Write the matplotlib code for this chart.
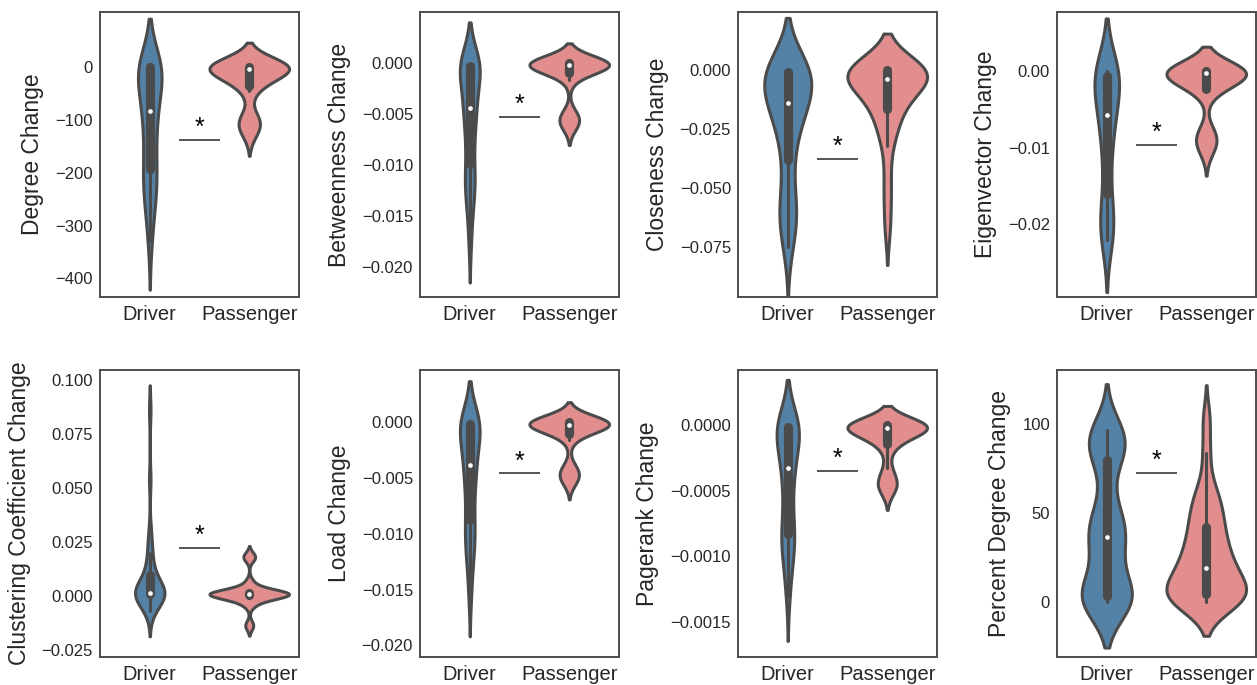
import numpy as np
import pandas as pd
import matplotlib
matplotlib.use("Agg")
import matplotlib.pyplot as plt
import seaborn as sns

groups = ["Driver", "Passenger"]
colors = ["steelblue", "lightcoral"]

labels = ["Degree Change", "Betweenness Change", "Closeness Change", "Eigenvector Change",
          "Clustering Coefficient Change", "Load Change", "Pagerank Change", "Percent Degree Change"]

degree_driver = [-330, -290, -260, -240, -232, -225, -205, -190, -175, -158, -140, -120, -100, -84,
                 -82, -68, -54, -40, -26, -14, 0, 0, 0, 0, 0, 0, 0, 0]
degree_passenger = [-128, -115, -108, -100, -95, -45, -34, -28, -20, -14, -10, -6, -3, -2, -1,
                    0, 0, 0, 1, 2, 3, 4, 5, 6]

betweenness_driver = [-0.0175, -0.0150, -0.0135, -0.0125, -0.0120, -0.0115, -0.0108, -0.0096,
                      -0.0085, -0.0075, -0.0065, -0.0056, -0.0050, -0.0046, -0.0042, -0.0036,
                      -0.0028, -0.0020, -0.0014, -0.0008, -0.0003, -0.0002, -0.0001, 0, 0, 0, 0, 0]
betweenness_passenger = [-0.0063, -0.0059, -0.0056, -0.0053, -0.0049, -0.0017, -0.0007, -0.0006,
                         -0.0005, -0.0004, -0.0003, -0.00025, -0.0002, -0.00015, -0.0001, -0.00005,
                         0, 0, 0, 0, 0, 0, 0.0001, 0.0002]

closeness_driver = [-0.075, -0.068, -0.064, -0.061, -0.058, -0.054, -0.044, -0.036, -0.030, -0.025,
                    -0.021, -0.018, -0.016, -0.015, -0.013, -0.011, -0.009, -0.007, -0.005, -0.003,
                    -0.001, 0, 0, 0, 0, 0, 0, 0]
closeness_passenger = [-0.067, -0.055, -0.045, -0.032, -0.027, -0.023, -0.020, -0.017, -0.015,
                       -0.013, -0.011, -0.009, -0.007, -0.005, -0.004, -0.003, -0.002, -0.002,
                       -0.001, -0.001, -0.0005, 0, 0, 0, 0, 0, 0, 0, 0, 0]

eigen_driver = [-0.0220, -0.0215, -0.0210, -0.0205, -0.0200, -0.0190, -0.0175, -0.0155, -0.0130,
                -0.0110, -0.0095, -0.0080, -0.0070, -0.0062, -0.0052, -0.0045, -0.0038, -0.0030,
                -0.0022, -0.0015, -0.0008, 0, 0, 0, 0, 0, 0, 0]
eigen_passenger = [-0.0105, -0.0095, -0.0090, -0.0085, -0.0080, -0.0026, -0.0022, -0.0018, -0.0014,
                   -0.0010, -0.0007, -0.0004, -0.0002, -0.0001, 0, 0, 0, 0, 0, 0, 0, 0, 0, 0]

clustering_driver = [-0.007, -0.005, -0.0035, -0.002, -0.001, 0, 0.0005, 0.001, 0.001, 0.0012,
                     0.0012, 0.0013, 0.0014, 0.0015, 0.0015, 0.0016, 0.002, 0.003, 0.004, 0.005,
                     0.0065, 0.008, 0.0105, 0.013, 0.016, 0.020, 0.024, 0.030, 0.054, 0.086]
clustering_passenger = [-0.014, -0.013, -0.0045, -0.003, -0.002, -0.0012, 0, 0.0005, 0.0007, 0.0008,
                        0.0009, 0.001, 0.001, 0.001, 0.001, 0.001, 0.001, 0.001, 0.001, 0.0011,
                        0.0012, 0.0013, 0.0015, 0.0022, 0.0035, 0.005, 0.007, 0.0175, 0.018, 0.019]

load_driver = [-0.0155, -0.0135, -0.0120, -0.0112, -0.0106, -0.0100, -0.0094, -0.0086, -0.0076,
               -0.0066, -0.0058, -0.0050, -0.0045, -0.0040, -0.0036, -0.0030, -0.0024, -0.0018,
               -0.0012, -0.0007, -0.0002, 0, 0, 0, 0, 0, 0, 0]
load_passenger = [-0.0054, -0.0050, -0.0047, -0.0044, -0.0040, -0.0016, -0.0008, -0.0006, -0.0005,
                  -0.0004, -0.0003, -0.00025, -0.0002, -0.00015, -0.0001, -0.00005, 0, 0, 0, 0, 0, 0,
                  0.0001, 0.0003]

pagerank_driver = [-0.00130, -0.00115, -0.00105, -0.00095, -0.00090, -0.00088, -0.00086, -0.00082,
                   -0.00074, -0.00065, -0.00056, -0.00048, -0.00040, -0.00035, -0.00030, -0.00025,
                   -0.00020, -0.00015, -0.00010, -0.00006, -0.00002, 0, 0, 0, 0, 0, 0, 0]
pagerank_passenger = [-0.00050, -0.00047, -0.00044, -0.00041, -0.00033, -0.00017, -0.00014, -0.00010,
                      -0.00007, -0.00005, -0.000035, -0.00003, -0.00002, -0.000015, -0.00001,
                      -0.000005, 0, 0, 0, 0, 0, 0, 0, 0]

percent_driver = [0, 0, 0, 0, 0, 1, 2, 3, 5, 8, 13, 21, 29, 33, 36, 37, 40, 43, 46, 50, 57, 74, 82,
                  86, 88, 90, 92, 94, 95, 97]
percent_passenger = [0, 0, 0, 0, 1, 2, 3, 4, 6, 8, 10, 12, 14, 16, 18, 20, 23, 26, 29, 32, 35, 39,
                     43, 47, 51, 55, 60, 66, 84, 103]

drivers = [degree_driver, betweenness_driver, closeness_driver, eigen_driver,
           clustering_driver, load_driver, pagerank_driver, percent_driver]
passengers = [degree_passenger, betweenness_passenger, closeness_passenger, eigen_passenger,
              clustering_passenger, load_passenger, pagerank_passenger, percent_passenger]

y_ticks = [
    [-400, -300, -200, -100, 0],
    [-0.020, -0.015, -0.010, -0.005, 0.000],
    [-0.075, -0.050, -0.025, 0.000],
    [-0.02, -0.01, 0.00],
    [-0.025, 0.000, 0.025, 0.050, 0.075, 0.100],
    [-0.020, -0.015, -0.010, -0.005, 0.000],
    [-0.0015, -0.0010, -0.0005, 0.0000],
    [0, 50, 100],
]
y_limits = [(-435, 104), (-0.0229, 0.0050), (-0.0962, 0.0248), (-0.0295, 0.0077),
            (-0.0281, 0.1046), (-0.02105, 0.0047), (-0.001767, 0.00042), (-31, 130.6)]
sig_y = [-138, -0.00526, -0.0374, -0.0096, 0.0224, -0.00458, -0.000351, 72.8]
bw_adjust = [0.85, 0.72, 0.88, 0.82, 0.6, 0.75, 0.8, 0.7]

gray = "#4b4b4b"
lw = 2.2

plt.rcParams["font.family"] = ["Liberation Sans", "DejaVu Sans"]
plt.rcParams["text.color"] = ".15"
plt.rcParams["axes.labelcolor"] = ".15"
plt.rcParams["xtick.color"] = ".15"
plt.rcParams["ytick.color"] = ".15"

W, H = 1257, 685
fig = plt.figure(figsize=(W / 100, H / 100), dpi=100)
col_left = [100, 420, 738, 1057]
row_top = [12, 370]
row_h = [285, 287]

for k in range(8):
    r, c = divmod(k, 4)
    ax = fig.add_axes([col_left[c] / W, (H - row_top[r] - row_h[r]) / H, 199 / W, row_h[r] / H])
    drv, psg = drivers[k], passengers[k]
    df = pd.DataFrame({"group": [groups[0]] * len(drv) + [groups[1]] * len(psg),
                       "value": drv + psg})
    sns.violinplot(data=df, x="group", y="value", hue="group", palette=colors, inner=None,
                   linewidth=lw, linecolor=gray, bw_adjust=bw_adjust[k], cut=2,
                   density_norm="area", common_norm=True, width=0.8, legend=False, ax=ax)

    # inner box like the old seaborn style
    for i, vals in enumerate([drv, psg]):
        arr = np.asarray(vals)
        q1, med, q3 = np.percentile(arr, [25, 50, 75])
        lim = 1.5 * (q3 - q1)
        lo = arr[arr >= q1 - lim].min()
        hi = arr[arr <= q3 + lim].max()
        ax.plot([i, i], [lo, hi], color=gray, lw=lw, solid_capstyle="round")
        ax.plot([i, i], [q1, q3], color=gray, lw=lw * 3, solid_capstyle="round")
        ax.scatter(i, med, s=(2 * lw) ** 2, color="white", edgecolor=gray, zorder=3)

    ax.plot([0.3, 0.7], [sig_y[k], sig_y[k]], color="#555555", lw=1.4)
    ax.annotate("*", (0.5, sig_y[k]), xytext=(0, 3.5), textcoords="offset points",
                ha="center", va="baseline", fontsize=18, color="black")

    ax.set_xlim(-0.5, 1.5)
    ax.set_ylim(*y_limits[k])
    ax.set_yticks(y_ticks[k])
    ax.set_xlabel("")
    ax.set_ylabel(labels[k], fontsize=16.5, labelpad=8)
    ax.tick_params(axis="y", length=0, pad=5, labelsize=12)
    ax.tick_params(axis="x", length=0, pad=6, labelsize=14.5)
    for s in ax.spines.values():
        s.set_color("#4d4d4d")
        s.set_linewidth(1.4)

fig.savefig("out.png", dpi=100)
